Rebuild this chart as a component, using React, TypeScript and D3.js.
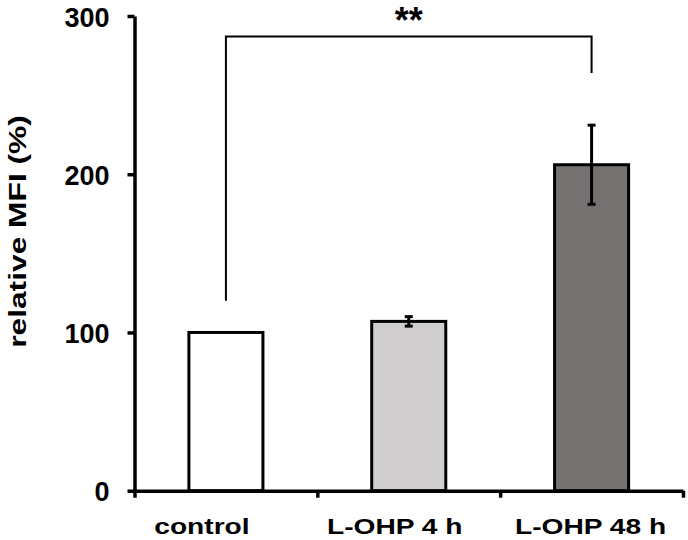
import * as d3 from "d3";
import { useEffect, useRef } from "react";

const categories = ["control", "L-OHP 4 h", "L-OHP 48 h"];
const means = [100, 107, 206];
const errors = [0, 3, 25];
const fills = ["#ffffff", "#d0cece", "#767171"];
const yTicks = [0, 100, 200, 300];
// significance bracket: left leg bottom, bar height, right leg bottom
const bracket = { from: 0, to: 2, leftEnd: 120, top: 287, rightEnd: 264, label: "**" };
const labelShift = [-24, -14, -1];

export default function App() {
  const ref = useRef<SVGSVGElement | null>(null);

  useEffect(() => {
    const width = 688;
    const height = 540;
    const svg = d3.select(ref.current);
    svg.selectAll("*").remove();

    const left = 134.5;
    const right = 683;
    const y = d3.scaleLinear().domain([0, 300]).range([490.7, 16]);
    const x = d3
      .scaleBand()
      .domain(categories)
      .range([left, right])
      .paddingInner(0.595)
      .paddingOuter(0.2975);
    const cx = (c: string) => (x(c) as number) + x.bandwidth() / 2;
    const font = "'Liberation Sans', Arial, sans-serif";

    // bars
    svg
      .append("g")
      .selectAll("rect")
      .data(categories)
      .join("rect")
      .attr("x", (d) => x(d) as number)
      .attr("y", (d, i) => y(means[i]))
      .attr("width", x.bandwidth())
      .attr("height", (d, i) => y(0) - y(means[i]))
      .attr("fill", (d, i) => fills[i])
      .attr("stroke", "#000")
      .attr("stroke-width", 3);

    // error bars
    const eb = svg
      .append("g")
      .attr("stroke", "#000")
      .attr("stroke-width", 3)
      .selectAll("g")
      .data(categories.filter((d, i) => errors[i] > 0))
      .join("g");
    eb.append("line")
      .attr("x1", (d) => cx(d))
      .attr("x2", (d) => cx(d))
      .attr("y1", (d) => y(means[categories.indexOf(d)] - errors[categories.indexOf(d)]))
      .attr("y2", (d) => y(means[categories.indexOf(d)] + errors[categories.indexOf(d)]));
    [1, -1].forEach((s) => {
      eb.append("line")
        .attr("x1", (d) => cx(d) - 4)
        .attr("x2", (d) => cx(d) + 4)
        .attr("y1", (d) => y(means[categories.indexOf(d)] + s * errors[categories.indexOf(d)]))
        .attr("y2", (d) => y(means[categories.indexOf(d)] + s * errors[categories.indexOf(d)]));
    });

    // y axis
    const ya = svg
      .append("g")
      .attr("transform", `translate(${left},0)`)
      .call(
        d3
          .axisLeft(y)
          .tickValues(yTicks)
          .tickSize(7)
          .tickSizeOuter(0)
          .tickFormat((d) => String(d))
      );
    ya.select(".domain").attr("stroke", "#000").attr("stroke-width", 3.5);
    ya.selectAll(".tick line").attr("stroke", "#000").attr("stroke-width", 3.5);
    ya.selectAll(".tick text")
      .attr("x", -25)
      .attr("dy", "0.38em")
      .attr("fill", "#000")
      .style("font", `bold 27px ${font}`);

    // x axis with ticks at category boundaries
    const xb = d3.scaleLinear().domain([0, categories.length]).range([left, right]);
    const xa = svg
      .append("g")
      .attr("transform", `translate(0,${y(0)})`)
      .call(
        d3
          .axisBottom(xb)
          .tickValues(d3.range(categories.length + 1))
          .tickSize(7)
          .tickSizeOuter(0)
          .tickFormat(() => "")
      );
    xa.select(".domain").attr("stroke", "#000").attr("stroke-width", 3.5);
    xa.selectAll(".tick line").attr("stroke", "#000").attr("stroke-width", 3.5);

    // category labels
    svg
      .append("g")
      .selectAll("text")
      .data(categories)
      .join("text")
      .attr("transform", (d, i) => `translate(${cx(d) + labelShift[i]},533.5) scale(1.28,1)`)
      .attr("text-anchor", "middle")
      .style("font", `bold 22px ${font}`)
      .attr("fill", "#000")
      .text((d) => d);

    // y label
    svg
      .append("text")
      .attr("transform", `translate(25.5,231.5) rotate(-90) scale(1.38,1)`)
      .attr("text-anchor", "middle")
      .style("font", `bold 23px ${font}`)
      .attr("fill", "#000")
      .text("relative MFI (%)");

    // significance bracket
    const bx1 = cx(categories[bracket.from]);
    const bx2 = cx(categories[bracket.to]);
    const line = d3.line();
    svg
      .append("path")
      .attr(
        "d",
        line([
          [bx1, y(bracket.leftEnd)],
          [bx1, y(bracket.top)],
          [bx2, y(bracket.top)],
          [bx2, y(bracket.rightEnd)],
        ])
      )
      .attr("fill", "none")
      .attr("stroke", "#000")
      .attr("stroke-width", 2);
    svg
      .append("text")
      .attr("x", (bx1 + bx2) / 2)
      .attr("y", 33)
      .attr("text-anchor", "middle")
      .style("font", `bold 36px ${font}`)
      .attr("fill", "#000")
      .text(bracket.label);

    svg.attr("width", width).attr("height", height);
  }, []);

  return (
    <svg
      ref={ref}
      width={688}
      height={540}
      style={{ position: "absolute", left: 0, top: 0, background: "#fff" }}
    />
  );
}
